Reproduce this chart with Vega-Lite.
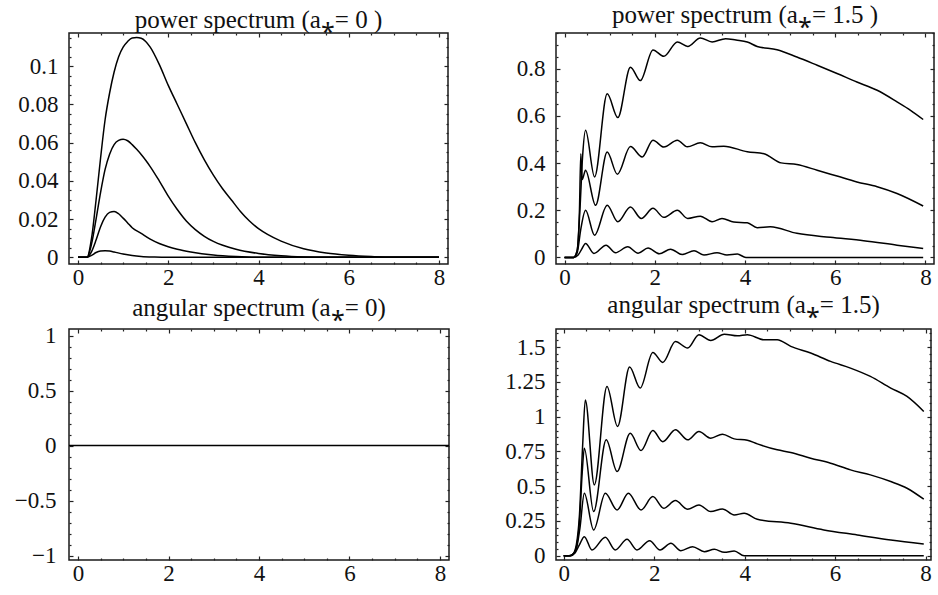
{
  "$schema": "https://vega.github.io/schema/vega-lite/v6.json",
  "padding": {"left": 13, "top": 2, "right": 0, "bottom": 0},
  "background": "white",
  "config": {
    "view": {"stroke": "#1a1a1a", "strokeWidth": 1.5},
    "font": "Liberation Serif",
    "axis": {"domain": false, "grid": false, "labelFont": "Liberation Serif", "labelFontSize": 23, "labelColor": "#111", "tickColor": "#222", "tickWidth": 1.2, "labelOverlap": false, "labelFlush": false, "format": "~g"},
    "title": {"font": "Liberation Serif", "fontSize": 25, "fontWeight": "normal", "color": "#111"}
  },
  "datasets": {
    "p1": [
      {"c": 1, "x": 0, "y": 0}, {"c": 1, "x": 0.2, "y": 0}, {"c": 1, "x": 0.3, "y": 0.01}, {"c": 1, "x": 0.4, "y": 0.03}, {"c": 1, "x": 0.5, "y": 0.052}, {"c": 1, "x": 0.6, "y": 0.072}, {"c": 1, "x": 0.7, "y": 0.086}, {"c": 1, "x": 0.8, "y": 0.097}, {"c": 1, "x": 0.9, "y": 0.105}, {"c": 1, "x": 1.0, "y": 0.11}, {"c": 1, "x": 1.1, "y": 0.113}, {"c": 1, "x": 1.2, "y": 0.1148}, {"c": 1, "x": 1.3, "y": 0.115}, {"c": 1, "x": 1.4, "y": 0.1147}, {"c": 1, "x": 1.5, "y": 0.113}, {"c": 1, "x": 1.6, "y": 0.11}, {"c": 1, "x": 1.8, "y": 0.101}, {"c": 1, "x": 2.0, "y": 0.09}, {"c": 1, "x": 2.2, "y": 0.08}, {"c": 1, "x": 2.4, "y": 0.07}, {"c": 1, "x": 2.6, "y": 0.06}, {"c": 1, "x": 2.8, "y": 0.051}, {"c": 1, "x": 3.0, "y": 0.043}, {"c": 1, "x": 3.2, "y": 0.036}, {"c": 1, "x": 3.4, "y": 0.03}, {"c": 1, "x": 3.6, "y": 0.024}, {"c": 1, "x": 3.8, "y": 0.019}, {"c": 1, "x": 4.0, "y": 0.015}, {"c": 1, "x": 4.2, "y": 0.012}, {"c": 1, "x": 4.5, "y": 0.0085}, {"c": 1, "x": 5.0, "y": 0.0045}, {"c": 1, "x": 5.5, "y": 0.0023}, {"c": 1, "x": 6.0, "y": 0.0011}, {"c": 1, "x": 6.5, "y": 0.0004}, {"c": 1, "x": 7.0, "y": 0}, {"c": 1, "x": 8.0, "y": 0},
      {"c": 2, "x": 0, "y": 0}, {"c": 2, "x": 0.2, "y": 0}, {"c": 2, "x": 0.3, "y": 0.007}, {"c": 2, "x": 0.4, "y": 0.02}, {"c": 2, "x": 0.5, "y": 0.034}, {"c": 2, "x": 0.6, "y": 0.046}, {"c": 2, "x": 0.7, "y": 0.054}, {"c": 2, "x": 0.8, "y": 0.059}, {"c": 2, "x": 0.9, "y": 0.0612}, {"c": 2, "x": 1.0, "y": 0.0618}, {"c": 2, "x": 1.1, "y": 0.061}, {"c": 2, "x": 1.2, "y": 0.059}, {"c": 2, "x": 1.3, "y": 0.0565}, {"c": 2, "x": 1.4, "y": 0.0538}, {"c": 2, "x": 1.5, "y": 0.0508}, {"c": 2, "x": 1.6, "y": 0.0475}, {"c": 2, "x": 1.8, "y": 0.04}, {"c": 2, "x": 2.0, "y": 0.032}, {"c": 2, "x": 2.2, "y": 0.025}, {"c": 2, "x": 2.4, "y": 0.019}, {"c": 2, "x": 2.6, "y": 0.0145}, {"c": 2, "x": 2.8, "y": 0.011}, {"c": 2, "x": 3.0, "y": 0.0083}, {"c": 2, "x": 3.5, "y": 0.0042}, {"c": 2, "x": 4.0, "y": 0.002}, {"c": 2, "x": 4.5, "y": 0.0008}, {"c": 2, "x": 5.0, "y": 0.0002}, {"c": 2, "x": 5.5, "y": 0}, {"c": 2, "x": 8.0, "y": 0},
      {"c": 3, "x": 0, "y": 0}, {"c": 3, "x": 0.2, "y": 0}, {"c": 3, "x": 0.3, "y": 0.003}, {"c": 3, "x": 0.4, "y": 0.009}, {"c": 3, "x": 0.5, "y": 0.016}, {"c": 3, "x": 0.6, "y": 0.021}, {"c": 3, "x": 0.7, "y": 0.0235}, {"c": 3, "x": 0.8, "y": 0.024}, {"c": 3, "x": 0.9, "y": 0.0228}, {"c": 3, "x": 1.0, "y": 0.0205}, {"c": 3, "x": 1.1, "y": 0.018}, {"c": 3, "x": 1.2, "y": 0.0155}, {"c": 3, "x": 1.4, "y": 0.0125}, {"c": 3, "x": 1.6, "y": 0.0095}, {"c": 3, "x": 1.8, "y": 0.0072}, {"c": 3, "x": 2.0, "y": 0.0055}, {"c": 3, "x": 2.2, "y": 0.0042}, {"c": 3, "x": 2.5, "y": 0.0028}, {"c": 3, "x": 3.0, "y": 0.0012}, {"c": 3, "x": 3.5, "y": 0.0004}, {"c": 3, "x": 4.0, "y": 0}, {"c": 3, "x": 8.0, "y": 0},
      {"c": 4, "x": 0, "y": 0}, {"c": 4, "x": 0.2, "y": 0}, {"c": 4, "x": 0.3, "y": 0.001}, {"c": 4, "x": 0.4, "y": 0.0025}, {"c": 4, "x": 0.5, "y": 0.0033}, {"c": 4, "x": 0.6, "y": 0.0035}, {"c": 4, "x": 0.7, "y": 0.0033}, {"c": 4, "x": 0.8, "y": 0.0028}, {"c": 4, "x": 1.0, "y": 0.0017}, {"c": 4, "x": 1.2, "y": 0.0009}, {"c": 4, "x": 1.4, "y": 0.0004}, {"c": 4, "x": 1.7, "y": 0.0001}, {"c": 4, "x": 2.0, "y": 0}, {"c": 4, "x": 8.0, "y": 0}
    ],
    "p2": [
      {"c": 1, "x": 0, "y": 0}, {"c": 1, "x": 0.2, "y": 0}, {"c": 1, "x": 0.28, "y": 0.03}, {"c": 1, "x": 0.34, "y": 0.2}, {"c": 1, "x": 0.4, "y": 0.43}, {"c": 1, "x": 0.465, "y": 0.539}, {"c": 1, "x": 0.665, "y": 0.341}, {"c": 1, "x": 0.945, "y": 0.694}, {"c": 1, "x": 1.18, "y": 0.593}, {"c": 1, "x": 1.46, "y": 0.807}, {"c": 1, "x": 1.68, "y": 0.75}, {"c": 1, "x": 1.96, "y": 0.88}, {"c": 1, "x": 2.2, "y": 0.853}, {"c": 1, "x": 2.5, "y": 0.914}, {"c": 1, "x": 2.73, "y": 0.895}, {"c": 1, "x": 3.01, "y": 0.931}, {"c": 1, "x": 3.27, "y": 0.914}, {"c": 1, "x": 3.57, "y": 0.928}, {"c": 1, "x": 3.8, "y": 0.922}, {"c": 1, "x": 4.05, "y": 0.914}, {"c": 1, "x": 4.27, "y": 0.895}, {"c": 1, "x": 4.71, "y": 0.881}, {"c": 1, "x": 5.15, "y": 0.85}, {"c": 1, "x": 5.6, "y": 0.815}, {"c": 1, "x": 6.04, "y": 0.78}, {"c": 1, "x": 6.48, "y": 0.744}, {"c": 1, "x": 6.93, "y": 0.709}, {"c": 1, "x": 7.37, "y": 0.66}, {"c": 1, "x": 7.67, "y": 0.624}, {"c": 1, "x": 7.95, "y": 0.585},
      {"c": 2, "x": 0, "y": 0}, {"c": 2, "x": 0.2, "y": 0}, {"c": 2, "x": 0.28, "y": 0.03}, {"c": 2, "x": 0.33, "y": 0.2}, {"c": 2, "x": 0.36, "y": 0.44}, {"c": 2, "x": 0.39, "y": 0.33}, {"c": 2, "x": 0.465, "y": 0.37}, {"c": 2, "x": 0.687, "y": 0.221}, {"c": 2, "x": 0.945, "y": 0.447}, {"c": 2, "x": 1.17, "y": 0.353}, {"c": 2, "x": 1.46, "y": 0.47}, {"c": 2, "x": 1.72, "y": 0.426}, {"c": 2, "x": 1.96, "y": 0.497}, {"c": 2, "x": 2.2, "y": 0.468}, {"c": 2, "x": 2.5, "y": 0.497}, {"c": 2, "x": 2.72, "y": 0.469}, {"c": 2, "x": 3.01, "y": 0.486}, {"c": 2, "x": 3.27, "y": 0.469}, {"c": 2, "x": 3.53, "y": 0.472}, {"c": 2, "x": 4.05, "y": 0.448}, {"c": 2, "x": 4.42, "y": 0.44}, {"c": 2, "x": 4.8, "y": 0.401}, {"c": 2, "x": 5.15, "y": 0.394}, {"c": 2, "x": 5.6, "y": 0.37}, {"c": 2, "x": 6.04, "y": 0.345}, {"c": 2, "x": 6.48, "y": 0.32}, {"c": 2, "x": 6.93, "y": 0.3}, {"c": 2, "x": 7.37, "y": 0.271}, {"c": 2, "x": 7.95, "y": 0.218},
      {"c": 3, "x": 0, "y": 0}, {"c": 3, "x": 0.2, "y": 0}, {"c": 3, "x": 0.28, "y": 0.02}, {"c": 3, "x": 0.36, "y": 0.12}, {"c": 3, "x": 0.465, "y": 0.2}, {"c": 3, "x": 0.665, "y": 0.094}, {"c": 3, "x": 0.945, "y": 0.221}, {"c": 3, "x": 1.18, "y": 0.151}, {"c": 3, "x": 1.46, "y": 0.214}, {"c": 3, "x": 1.7, "y": 0.165}, {"c": 3, "x": 1.96, "y": 0.208}, {"c": 3, "x": 2.2, "y": 0.17}, {"c": 3, "x": 2.5, "y": 0.2}, {"c": 3, "x": 2.73, "y": 0.165}, {"c": 3, "x": 3.01, "y": 0.175}, {"c": 3, "x": 3.27, "y": 0.151}, {"c": 3, "x": 3.49, "y": 0.165}, {"c": 3, "x": 3.75, "y": 0.15}, {"c": 3, "x": 4.05, "y": 0.147}, {"c": 3, "x": 4.27, "y": 0.126}, {"c": 3, "x": 4.56, "y": 0.13}, {"c": 3, "x": 5.15, "y": 0.102}, {"c": 3, "x": 5.89, "y": 0.085}, {"c": 3, "x": 6.63, "y": 0.071}, {"c": 3, "x": 7.37, "y": 0.052}, {"c": 3, "x": 7.95, "y": 0.038},
      {"c": 4, "x": 0, "y": 0}, {"c": 4, "x": 0.2, "y": 0}, {"c": 4, "x": 0.3, "y": 0.01}, {"c": 4, "x": 0.38, "y": 0.035}, {"c": 4, "x": 0.465, "y": 0.059}, {"c": 4, "x": 0.65, "y": 0.017}, {"c": 4, "x": 0.92, "y": 0.052}, {"c": 4, "x": 1.13, "y": 0.02}, {"c": 4, "x": 1.4, "y": 0.045}, {"c": 4, "x": 1.63, "y": 0.018}, {"c": 4, "x": 1.85, "y": 0.04}, {"c": 4, "x": 2.1, "y": 0.015}, {"c": 4, "x": 2.35, "y": 0.035}, {"c": 4, "x": 2.61, "y": 0.012}, {"c": 4, "x": 2.87, "y": 0.028}, {"c": 4, "x": 3.09, "y": 0.01}, {"c": 4, "x": 3.38, "y": 0.02}, {"c": 4, "x": 3.6, "y": 0.01}, {"c": 4, "x": 3.83, "y": 0.014}, {"c": 4, "x": 4.02, "y": 0}, {"c": 4, "x": 7.95, "y": 0}
    ],
    "p3": [
      {"c": 1, "x": -0.2, "y": 0}, {"c": 1, "x": 8.2, "y": 0}
    ],
    "p4": [
      {"c": 1, "x": 0, "y": 0}, {"c": 1, "x": 0.12, "y": 0}, {"c": 1, "x": 0.2, "y": 0.01}, {"c": 1, "x": 0.28, "y": 0.08}, {"c": 1, "x": 0.35, "y": 0.3}, {"c": 1, "x": 0.42, "y": 0.8}, {"c": 1, "x": 0.478, "y": 1.12}, {"c": 1, "x": 0.677, "y": 0.509}, {"c": 1, "x": 0.957, "y": 1.217}, {"c": 1, "x": 1.19, "y": 0.929}, {"c": 1, "x": 1.457, "y": 1.356}, {"c": 1, "x": 1.69, "y": 1.205}, {"c": 1, "x": 1.97, "y": 1.461}, {"c": 1, "x": 2.19, "y": 1.39}, {"c": 1, "x": 2.47, "y": 1.54}, {"c": 1, "x": 2.74, "y": 1.493}, {"c": 1, "x": 2.99, "y": 1.589}, {"c": 1, "x": 3.25, "y": 1.548}, {"c": 1, "x": 3.55, "y": 1.593}, {"c": 1, "x": 3.84, "y": 1.581}, {"c": 1, "x": 4.06, "y": 1.589}, {"c": 1, "x": 4.43, "y": 1.553}, {"c": 1, "x": 4.72, "y": 1.553}, {"c": 1, "x": 5.02, "y": 1.505}, {"c": 1, "x": 5.46, "y": 1.457}, {"c": 1, "x": 5.9, "y": 1.397}, {"c": 1, "x": 6.34, "y": 1.349}, {"c": 1, "x": 6.78, "y": 1.289}, {"c": 1, "x": 7.23, "y": 1.205}, {"c": 1, "x": 7.59, "y": 1.145}, {"c": 1, "x": 7.96, "y": 1.037},
      {"c": 2, "x": 0, "y": 0}, {"c": 2, "x": 0.12, "y": 0}, {"c": 2, "x": 0.2, "y": 0.01}, {"c": 2, "x": 0.28, "y": 0.06}, {"c": 2, "x": 0.35, "y": 0.25}, {"c": 2, "x": 0.41, "y": 0.6}, {"c": 2, "x": 0.456, "y": 0.773}, {"c": 2, "x": 0.662, "y": 0.317}, {"c": 2, "x": 0.94, "y": 0.833}, {"c": 2, "x": 1.18, "y": 0.605}, {"c": 2, "x": 1.47, "y": 0.88}, {"c": 2, "x": 1.71, "y": 0.756}, {"c": 2, "x": 1.97, "y": 0.9}, {"c": 2, "x": 2.19, "y": 0.82}, {"c": 2, "x": 2.47, "y": 0.905}, {"c": 2, "x": 2.74, "y": 0.833}, {"c": 2, "x": 2.99, "y": 0.893}, {"c": 2, "x": 3.25, "y": 0.845}, {"c": 2, "x": 3.51, "y": 0.874}, {"c": 2, "x": 3.77, "y": 0.84}, {"c": 2, "x": 4.06, "y": 0.83}, {"c": 2, "x": 4.28, "y": 0.804}, {"c": 2, "x": 4.72, "y": 0.761}, {"c": 2, "x": 5.02, "y": 0.742}, {"c": 2, "x": 5.46, "y": 0.701}, {"c": 2, "x": 5.9, "y": 0.665}, {"c": 2, "x": 6.34, "y": 0.617}, {"c": 2, "x": 6.78, "y": 0.581}, {"c": 2, "x": 7.23, "y": 0.533}, {"c": 2, "x": 7.59, "y": 0.485}, {"c": 2, "x": 7.96, "y": 0.406},
      {"c": 3, "x": 0, "y": 0}, {"c": 3, "x": 0.12, "y": 0}, {"c": 3, "x": 0.2, "y": 0.01}, {"c": 3, "x": 0.28, "y": 0.05}, {"c": 3, "x": 0.36, "y": 0.2}, {"c": 3, "x": 0.456, "y": 0.449}, {"c": 3, "x": 0.662, "y": 0.185}, {"c": 3, "x": 0.92, "y": 0.449}, {"c": 3, "x": 1.18, "y": 0.329}, {"c": 3, "x": 1.43, "y": 0.449}, {"c": 3, "x": 1.71, "y": 0.329}, {"c": 3, "x": 1.97, "y": 0.425}, {"c": 3, "x": 2.21, "y": 0.341}, {"c": 3, "x": 2.47, "y": 0.396}, {"c": 3, "x": 2.74, "y": 0.334}, {"c": 3, "x": 2.99, "y": 0.365}, {"c": 3, "x": 3.25, "y": 0.317}, {"c": 3, "x": 3.51, "y": 0.336}, {"c": 3, "x": 3.77, "y": 0.293}, {"c": 3, "x": 3.99, "y": 0.305}, {"c": 3, "x": 4.28, "y": 0.262}, {"c": 3, "x": 5.02, "y": 0.233}, {"c": 3, "x": 5.75, "y": 0.185}, {"c": 3, "x": 6.49, "y": 0.149}, {"c": 3, "x": 7.23, "y": 0.113}, {"c": 3, "x": 7.96, "y": 0.084},
      {"c": 4, "x": 0, "y": 0}, {"c": 4, "x": 0.15, "y": 0}, {"c": 4, "x": 0.25, "y": 0.02}, {"c": 4, "x": 0.35, "y": 0.08}, {"c": 4, "x": 0.456, "y": 0.137}, {"c": 4, "x": 0.625, "y": 0.041}, {"c": 4, "x": 0.92, "y": 0.132}, {"c": 4, "x": 1.14, "y": 0.041}, {"c": 4, "x": 1.4, "y": 0.118}, {"c": 4, "x": 1.62, "y": 0.041}, {"c": 4, "x": 1.9, "y": 0.108}, {"c": 4, "x": 2.13, "y": 0.041}, {"c": 4, "x": 2.37, "y": 0.089}, {"c": 4, "x": 2.59, "y": 0.036}, {"c": 4, "x": 2.85, "y": 0.065}, {"c": 4, "x": 3.11, "y": 0.029}, {"c": 4, "x": 3.33, "y": 0.046}, {"c": 4, "x": 3.55, "y": 0.024}, {"c": 4, "x": 3.77, "y": 0.034}, {"c": 4, "x": 3.99, "y": 0}, {"c": 4, "x": 7.96, "y": 0}
    ]
  },
  "spacing": 0,
  "vconcat": [
    {
      "spacing": 65,
      "hconcat": [
        {
          "width": 379, "height": 231,
          "title": {"text": "power spectrum (a⁎= 0 )", "offset": -6},
          "data": {"name": "p1"},
          "layer": [
            {"mark": {"type": "line", "color": "#000", "strokeWidth": 1.5, "interpolate": "monotone"},
             "encoding": {
               "x": {"field": "x", "type": "quantitative", "scale": {"domain": [-0.2, 8.2], "nice": false, "zero": false},
                     "axis": {"orient": "bottom", "title": null, "values": [0,0.5,1,1.5,2,2.5,3,3.5,4,4.5,5,5.5,6,6.5,7,7.5,8], "labelExpr": "datum.value % 2 === 0 ? datum.label : ''", "tickSize": {"condition": {"test": "datum.value % 2 === 0", "value": -4}, "value": -2}, "labelPadding": 6}},
               "y": {"field": "y", "type": "quantitative", "scale": {"domain": [-0.0035, 0.1174], "nice": false, "zero": false},
                     "axis": {"orient": "left", "title": null, "values": [0,0.005,0.01,0.015,0.02,0.025,0.03,0.035,0.04,0.045,0.05,0.055,0.06,0.065,0.07,0.075,0.08,0.085,0.09,0.095,0.1,0.105,0.11,0.115], "labelExpr": "abs(datum.value*50-round(datum.value*50))<0.01 ? datum.label : ''", "tickSize": {"condition": {"test": "abs(datum.value*50-round(datum.value*50))<0.01", "value": -4}, "value": -2}, "labelPadding": 15}},
               "detail": {"field": "c"}
             }},
            {"mark": {"type": "line", "opacity": 0},
             "encoding": {
               "x": {"field": "x", "type": "quantitative", "scale": {"domain": [-0.2, 8.2], "nice": false, "zero": false},
                     "axis": {"orient": "top", "title": null, "labels": false, "values": [0,0.5,1,1.5,2,2.5,3,3.5,4,4.5,5,5.5,6,6.5,7,7.5,8], "tickSize": {"condition": {"test": "datum.value % 2 === 0", "value": -4}, "value": -2}}},
               "y": {"field": "y", "type": "quantitative", "scale": {"domain": [-0.0035, 0.1174], "nice": false, "zero": false},
                     "axis": {"orient": "right", "title": null, "labels": false, "values": [0,0.005,0.01,0.015,0.02,0.025,0.03,0.035,0.04,0.045,0.05,0.055,0.06,0.065,0.07,0.075,0.08,0.085,0.09,0.095,0.1,0.105,0.11,0.115], "tickSize": {"condition": {"test": "abs(datum.value*50-round(datum.value*50))<0.01", "value": -4}, "value": -2}}},
               "detail": {"field": "c"}
             }}
          ],
          "resolve": {"axis": {"x": "independent", "y": "independent"}}
        },
        {
          "width": 378, "height": 231,
          "title": {"text": "power spectrum (a⁎= 1.5 )", "offset": -6},
          "data": {"name": "p2"},
          "layer": [
            {"mark": {"type": "line", "color": "#000", "strokeWidth": 1.5, "interpolate": "monotone"},
             "encoding": {
               "x": {"field": "x", "type": "quantitative", "scale": {"domain": [-0.19, 8.19], "nice": false, "zero": false},
                     "axis": {"orient": "bottom", "title": null, "values": [0,0.5,1,1.5,2,2.5,3,3.5,4,4.5,5,5.5,6,6.5,7,7.5,8], "labelExpr": "datum.value % 2 === 0 ? datum.label : ''", "tickSize": {"condition": {"test": "datum.value % 2 === 0", "value": -4}, "value": -2}, "labelPadding": 6}},
               "y": {"field": "y", "type": "quantitative", "scale": {"domain": [-0.028, 0.952], "nice": false, "zero": false},
                     "axis": {"orient": "left", "title": null, "values": [0,0.05,0.1,0.15,0.2,0.25,0.3,0.35,0.4,0.45,0.5,0.55,0.6,0.65,0.7,0.75,0.8,0.85,0.9,0.95], "labelExpr": "abs(datum.value*5-round(datum.value*5))<0.01 ? datum.label : ''", "tickSize": {"condition": {"test": "abs(datum.value*5-round(datum.value*5))<0.01", "value": -4}, "value": -2}, "labelPadding": 15}},
               "detail": {"field": "c"}
             }},
            {"mark": {"type": "line", "opacity": 0},
             "encoding": {
               "x": {"field": "x", "type": "quantitative", "scale": {"domain": [-0.19, 8.19], "nice": false, "zero": false},
                     "axis": {"orient": "top", "title": null, "labels": false, "values": [0,0.5,1,1.5,2,2.5,3,3.5,4,4.5,5,5.5,6,6.5,7,7.5,8], "tickSize": {"condition": {"test": "datum.value % 2 === 0", "value": -4}, "value": -2}}},
               "y": {"field": "y", "type": "quantitative", "scale": {"domain": [-0.028, 0.952], "nice": false, "zero": false},
                     "axis": {"orient": "right", "title": null, "labels": false, "values": [0,0.05,0.1,0.15,0.2,0.25,0.3,0.35,0.4,0.45,0.5,0.55,0.6,0.65,0.7,0.75,0.8,0.85,0.9,0.95], "tickSize": {"condition": {"test": "abs(datum.value*5-round(datum.value*5))<0.01", "value": -4}, "value": -2}}},
               "detail": {"field": "c"}
             }}
          ],
          "resolve": {"axis": {"x": "independent", "y": "independent"}}
        }
      ]
    },
    {
      "spacing": 51,
      "hconcat": [
        {
          "width": 380, "height": 231,
          "title": {"text": "angular spectrum (a⁎= 0)", "offset": 4},
          "data": {"name": "p3"},
          "layer": [
            {"mark": {"type": "line", "color": "#000", "strokeWidth": 1.5},
             "encoding": {
               "x": {"field": "x", "type": "quantitative", "scale": {"domain": [-0.2, 8.2], "nice": false, "zero": false},
                     "axis": {"orient": "bottom", "title": null, "values": [0,0.5,1,1.5,2,2.5,3,3.5,4,4.5,5,5.5,6,6.5,7,7.5,8], "labelExpr": "datum.value % 2 === 0 ? datum.label : ''", "tickSize": {"condition": {"test": "datum.value % 2 === 0", "value": -4}, "value": -2}, "labelPadding": 6}},
               "y": {"field": "y", "type": "quantitative", "scale": {"domain": [-1.04, 1.06], "nice": false, "zero": false},
                     "axis": {"orient": "left", "title": null, "values": [-1,-0.9,-0.8,-0.7,-0.6,-0.5,-0.4,-0.3,-0.2,-0.1,0,0.1,0.2,0.3,0.4,0.5,0.6,0.7,0.8,0.9,1], "labelExpr": "abs(datum.value*2-round(datum.value*2))<0.01 ? datum.label : ''", "tickSize": {"condition": {"test": "abs(datum.value*2-round(datum.value*2))<0.01", "value": -4}, "value": -2}, "labelPadding": 17}},
               "detail": {"field": "c"}
             }},
            {"mark": {"type": "line", "opacity": 0},
             "encoding": {
               "x": {"field": "x", "type": "quantitative", "scale": {"domain": [-0.2, 8.2], "nice": false, "zero": false},
                     "axis": {"orient": "top", "title": null, "labels": false, "values": [0,0.5,1,1.5,2,2.5,3,3.5,4,4.5,5,5.5,6,6.5,7,7.5,8], "tickSize": {"condition": {"test": "datum.value % 2 === 0", "value": -4}, "value": -2}}},
               "y": {"field": "y", "type": "quantitative", "scale": {"domain": [-1.04, 1.06], "nice": false, "zero": false},
                     "axis": {"orient": "right", "title": null, "labels": false, "values": [-1,-0.9,-0.8,-0.7,-0.6,-0.5,-0.4,-0.3,-0.2,-0.1,0,0.1,0.2,0.3,0.4,0.5,0.6,0.7,0.8,0.9,1], "tickSize": {"condition": {"test": "abs(datum.value*2-round(datum.value*2))<0.01", "value": -4}, "value": -2}}},
               "detail": {"field": "c"}
             }}
          ],
          "resolve": {"axis": {"x": "independent", "y": "independent"}}
        },
        {
          "width": 375, "height": 231,
          "title": {"text": "angular spectrum (a⁎= 1.5)", "offset": 4},
          "data": {"name": "p4"},
          "layer": [
            {"mark": {"type": "line", "color": "#000", "strokeWidth": 1.5, "interpolate": "monotone"},
             "encoding": {
               "x": {"field": "x", "type": "quantitative", "scale": {"domain": [-0.17, 8.12], "nice": false, "zero": false},
                     "axis": {"orient": "bottom", "title": null, "values": [0,0.5,1,1.5,2,2.5,3,3.5,4,4.5,5,5.5,6,6.5,7,7.5,8], "labelExpr": "datum.value % 2 === 0 ? datum.label : ''", "tickSize": {"condition": {"test": "datum.value % 2 === 0", "value": -4}, "value": -2}, "labelPadding": 6}},
               "y": {"field": "y", "type": "quantitative", "scale": {"domain": [-0.031, 1.63], "nice": false, "zero": false},
                     "axis": {"orient": "left", "title": null, "values": [0,0.05,0.1,0.15,0.2,0.25,0.3,0.35,0.4,0.45,0.5,0.55,0.6,0.65,0.7,0.75,0.8,0.85,0.9,0.95,1,1.05,1.1,1.15,1.2,1.25,1.3,1.35,1.4,1.45,1.5,1.55,1.6], "labelExpr": "abs(datum.value*4-round(datum.value*4))<0.01 ? datum.label : ''", "tickSize": {"condition": {"test": "abs(datum.value*4-round(datum.value*4))<0.01", "value": -4}, "value": -2}, "labelPadding": 15}},
               "detail": {"field": "c"}
             }},
            {"mark": {"type": "line", "opacity": 0},
             "encoding": {
               "x": {"field": "x", "type": "quantitative", "scale": {"domain": [-0.17, 8.12], "nice": false, "zero": false},
                     "axis": {"orient": "top", "title": null, "labels": false, "values": [0,0.5,1,1.5,2,2.5,3,3.5,4,4.5,5,5.5,6,6.5,7,7.5,8], "tickSize": {"condition": {"test": "datum.value % 2 === 0", "value": -4}, "value": -2}}},
               "y": {"field": "y", "type": "quantitative", "scale": {"domain": [-0.031, 1.63], "nice": false, "zero": false},
                     "axis": {"orient": "right", "title": null, "labels": false, "values": [0,0.05,0.1,0.15,0.2,0.25,0.3,0.35,0.4,0.45,0.5,0.55,0.6,0.65,0.7,0.75,0.8,0.85,0.9,0.95,1,1.05,1.1,1.15,1.2,1.25,1.3,1.35,1.4,1.45,1.5,1.55,1.6], "tickSize": {"condition": {"test": "abs(datum.value*4-round(datum.value*4))<0.01", "value": -4}, "value": -2}}},
               "detail": {"field": "c"}
             }}
          ],
          "resolve": {"axis": {"x": "independent", "y": "independent"}}
        }
      ]
    }
  ]
}
